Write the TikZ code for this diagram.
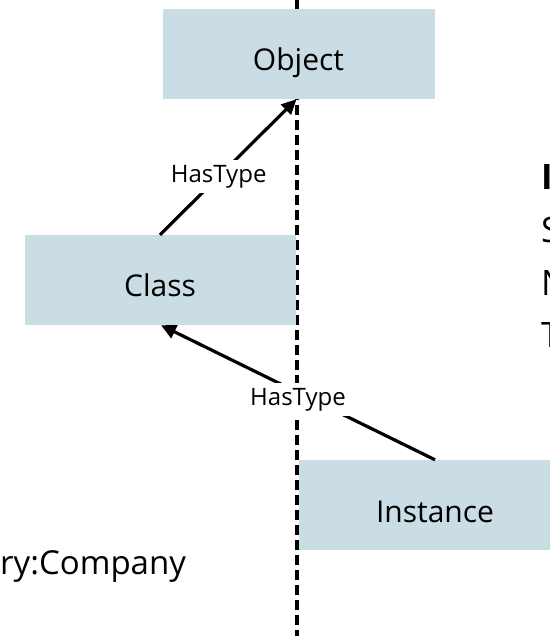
\documentclass[tikz,border=0pt]{standalone}
\usepackage{fontspec}
\setmainfont{Open Sans}
\usetikzlibrary{arrows.meta,calc}
\definecolor{boxblue}{RGB}{203,221,228}

\begin{document}
\begin{tikzpicture}[x=1pt,y=-1pt,
            every node/.style={inner sep=0pt},
            typebox/.style={fill=boxblue,minimum width=272pt,minimum height=90pt,
                text height=33pt,text depth=0pt,font=\fontsize{30}{34}\selectfont},
            hastype/.style={->,>={Triangle[length=15pt,width=14pt]},line width=3.2pt},
            edgelabel/.style={fill=white,inner sep=5pt,font=\fontsize{24}{28}\selectfont},
            sidetext/.style={anchor=west,font=\fontsize{35}{40}\selectfont}
            ]
            \useasboundingbox (0,0) rectangle (549,636);
            % the split line runs behind the boxes
            \coordinate (top) at (297,0);
            \coordinate (bottom) at (297,636);
            \draw[line width=3.2pt,dash pattern=on 10pt off 5pt] (top) -- (bottom);
            \node[typebox] (obj) at (298.5,54) {Object};
            \node[typebox,minimum width=271pt] (cls) at (160,280) {Class};
            \node[typebox,minimum width=273pt,text height=35pt] (inst) at (435,505) {Instance};
            \draw[hastype] (cls.north) -- ($(obj.south)+(-2,0)$)
                node[edgelabel,pos=0.43] (ht1) {HasType};
            \draw[hastype] (inst.north) -- ($(cls.south)+(1,0)$)
                node[edgelabel,pos=0.5,yshift=-7pt] (ht2) {HasType};
            % text at the edges
            \node[anchor=west,font=\fontsize{33}{36}\selectfont] (comp) at (0,567) {ry:Company};
            \node[sidetext,font=\fontsize{35}{40}\selectfont\bfseries] (s1) at (541,177) {I};
            \node[sidetext] (s2) at (541,230) {S};
            \node[sidetext] (s3) at (541,283) {N};
            \node[sidetext] (s4) at (541,335) {T};
        \end{tikzpicture}
\end{document}
